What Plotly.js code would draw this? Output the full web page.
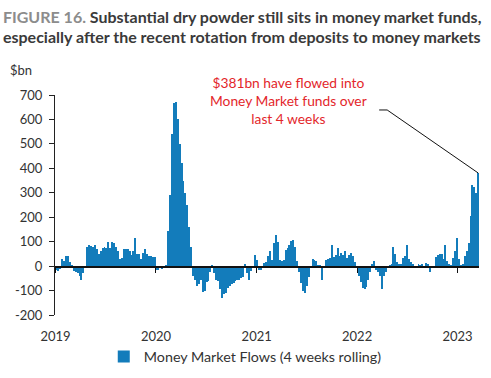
<!DOCTYPE html>
<html>
<head>
<meta charset="utf-8">
<script src="https://cdn.plot.ly/plotly-3.0.1.min.js"></script>
<style>html,body{margin:0;padding:0;background:#fff}#chart{width:491px;height:378px}</style>
</head>
<body>
<div id="chart"></div>
<script>
// Weekly money market flows, 4-week rolling sum ($bn), first week 2019-01-04
const firstWeek = '2019-01-04';
const flows = [
  -15, -20, -10, 28, 20, 40, 42, 18, 3, -18,
  -25, -30, -40, -57, -30, -8, 80, 85, 82, 80,
  85, 70, 50, 62, 75, 78, 75, 97, 75, 98,
  95, 80, 60, 30, 35, 68, 72, 70, 60, 45,
  60, 114, 50, 48, 30, 55, 68, 50, 40, 40,
  38, 38, -15, -15, -8, -10, -5, 5, 145, 290,
  540, 668, 672, 600, 500, 420, 350, 300, 250, 160,
  80, -40, -55, -80, -75, -55, -105, -100, -65, -60,
  -25, 5, -30, -55, -60, -95, -130, -115, -110, -90,
  -80, -72, -68, -60, -58, -55, -50, -45, 10, -30,
  -55, -20, -5, 45, 25, -15, -15, -5, 12, 15,
  42, 60, 25, 93, 127, 100, 25, 22, 25, 66,
  73, 86, 103, 107, 80, 20, -25, -70, -100, -110,
  -80, -45, 2, 28, 25, 20, 5, 3, -55, 2,
  25, 28, 35, 85, 38, 45, 75, 40, 55, 45,
  60, 35, 45, 55, 40, 15, -8, -40, -65, -90,
  -95, -85, -55, -25, 10, 20, -15, -25, -40, -95,
  -40, -25, 2, 5, 10, 78, 50, 15, 10, 10,
  35, 40, 86, 30, 15, 8, -5, 0, 10, 5,
  10, -5, 12, 10, -25, 0, 2, 38, 45, 50,
  48, 30, 85, 20, 8, 5, 35, 60, 115, 30,
  5, 10, 40, 60, 95, 205, 330, 325, 300, 381
];
const yTickVals = [-200, -100, 0, 100, 200, 300, 400, 500, 600, 700];
const yTickText = ['-200', '-100', '0', '100', '200', '300', '400', '500', '600', '700'];
const seriesName = 'Money Market Flows (4 weeks rolling)';
const unitLabel = '$bn';
const calloutText = '$381bn have flowed into<br>Money Market funds over<br>last 4 weeks';

const t0 = Date.parse(firstWeek + 'T00:00:00Z');
const weeks = flows.map((_, i) => new Date(t0 + i * 7 * 86400000).toISOString().slice(0, 10));
const lastIdx = flows.length - 1;

const FONT = 'Lato, "Source Sans Pro", "Noto Sans", sans-serif';
const BLUE = '#137cbb';

const traces = [
  {
    type: 'bar', x: weeks, y: flows, name: seriesName,
    marker: {color: BLUE, line: {width: 0}},
    hoverinfo: 'x+y'
  },
  {type: 'scatter', x: [], y: [], xaxis: 'x2', showlegend: false, hoverinfo: 'skip'}
];

const layout = {
  width: 491, height: 378,
  margin: {l: 55, r: 12, t: 95, b: 63, autoexpand: false},
  paper_bgcolor: '#fff', plot_bgcolor: '#fff',
  font: {family: FONT, size: 13, color: '#333'},
  bargap: 0,
  showlegend: true,
  title: {
    text: '<b><span style="color:#8c8c8c">FIGURE 16.</span> Substantial dry powder still sits in money market funds,<br>especially after the recent rotation from deposits to money markets</b>',
    font: {family: FONT, size: 16, color: '#3a3a3a'},
    x: 0.006, xanchor: 'left', xref: 'container',
    y: 0.94, yanchor: 'top', yref: 'container'
  },
  xaxis: {
    type: 'date', range: ['2018-12-30', '2023-03-20'],
    tick0: '2019-01-01', dtick: 'M12', tickformat: '%Y',
    showline: false, showgrid: false, zeroline: false, ticks: '',
    ticklabelstandoff: 12, automargin: false,
    tickfont: {family: FONT, size: 13, color: '#333'}
  },
  xaxis2: {
    type: 'date', overlaying: 'x', matches: 'x', anchor: 'free', position: 2 / 9,
    tick0: '2019-01-01', dtick: 'M12',
    showline: true, linecolor: '#111', linewidth: 1.5,
    ticks: 'outside', ticklen: 5, tickwidth: 1, tickcolor: '#111',
    showticklabels: false, showgrid: false, zeroline: false
  },
  yaxis: {
    range: [-200, 700], tickvals: yTickVals, ticktext: yTickText,
    showline: true, linecolor: '#222', linewidth: 1,
    ticks: 'outside', ticklen: 5, tickcolor: '#222',
    ticklabelstandoff: 4, automargin: false,
    showgrid: false, zeroline: false,
    tickfont: {family: FONT, size: 13, color: '#333'}
  },
  legend: {
    orientation: 'h', x: 0.115, xanchor: 'left', y: -0.19, yanchor: 'middle',
    font: {family: FONT, size: 14.3, color: '#333'},
    bgcolor: 'rgba(0,0,0,0)'
  },
  annotations: [
    {
      text: unitLabel, xref: 'paper', yref: 'paper', x: -0.11, y: 1.114,
      xanchor: 'left', yanchor: 'middle', showarrow: false,
      font: {family: FONT, size: 13, color: '#333'}
    },
    {
      text: calloutText, xref: 'paper', yref: 'paper', x: (288 - 55) / 424, y: (315 - 100) / 220,
      xanchor: 'center', yanchor: 'middle', align: 'center', showarrow: false,
      font: {family: FONT, size: 13.8, color: '#e3262b'}
    }
  ],
  shapes: [
    {
      type: 'path', xref: 'x', yref: 'y', xsizemode: 'pixel', ysizemode: 'pixel',
      xanchor: weeks[lastIdx], yanchor: flows[lastIdx],
      path: 'M0,0 L-91,63 L-99,63',
      line: {color: '#111', width: 1}
    }
  ]
};

Plotly.newPlot('chart', traces, layout, {staticPlot: true, displayModeBar: false});
</script>
</body>
</html>
